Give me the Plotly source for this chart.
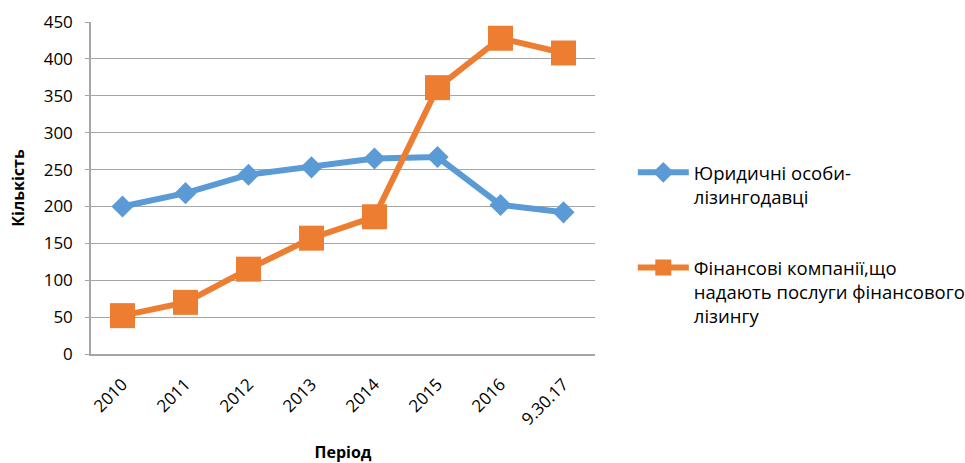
import plotly.graph_objects as go

periods = ["2010", "2011", "2012", "2013", "2014", "2015", "2016", "9.30.17"]
legal_entities = [200, 218, 243, 253, 265, 267, 202, 192]
finance_companies = [52, 70, 115, 157, 186, 361, 428, 408]

name_blue = "Юридичні особи-<br>лізингодавці"
name_orange = "Фінансові компанії,що<br>надають послуги фінансового<br>лізингу"

font_family = "Open Sans, Liberation Sans, sans-serif"

fig = go.Figure()
fig.add_trace(go.Scatter(
    x=periods, y=legal_entities, name=name_blue, mode="lines+markers",
    line=dict(color="#5B9BD5", width=6),
    marker=dict(symbol="diamond", size=17, color="#5B9BD5"),
    legendgroup="a",
))
fig.add_trace(go.Scatter(
    x=periods, y=finance_companies, name=name_orange, mode="lines+markers",
    line=dict(color="#ED7D31", width=6),
    marker=dict(symbol="square", size=25, color="#ED7D31"),
    legendgroup="b",
))

fig.update_layout(
    width=965, height=463,
    margin=dict(l=91, r=370, t=22, b=109, autoexpand=False),
    paper_bgcolor="white", plot_bgcolor="white",
    font=dict(family=font_family, size=17, color="#000000"),
    showlegend=True,
    legend=dict(
        x=1.075, xanchor="left", y=0.603, yanchor="top",
        font=dict(size=18.5, family=font_family, color="#000000"),
        valign="top", tracegroupgap=44, itemwidth=51,
        bgcolor="rgba(0,0,0,0)",
    ),
    xaxis=dict(
        type="category", range=[-0.5, 7.5],
        showline=True, linecolor="#A6A6A6", linewidth=1.5,
        showgrid=False, ticks="", tickangle=-45,
        tickfont=dict(size=17), ticklabelstandoff=12,
        title=dict(text="<b>Період</b>", font=dict(size=16), standoff=42),
        zeroline=False, automargin=False,
    ),
    yaxis=dict(
        range=[0, 450], dtick=50,
        showline=True, linecolor="#A6A6A6", linewidth=1.5,
        showgrid=True, gridcolor="#A6A6A6", gridwidth=1.3,
        ticks="outside", ticklen=4, tickcolor="#A6A6A6",
        tickfont=dict(size=17), ticklabelstandoff=9,
        title=dict(text="<b>Кількість</b>", font=dict(size=16), standoff=15),
        zeroline=False, automargin=False,
    ),
)

fig.write_html("out.html")
